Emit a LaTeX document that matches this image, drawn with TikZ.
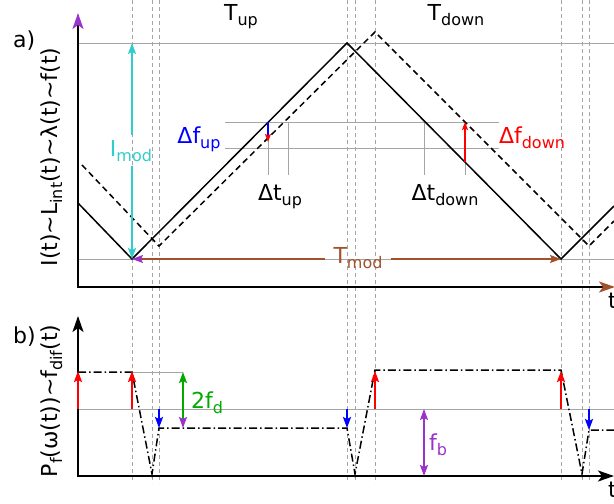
\documentclass[tikz,border=0pt]{standalone}
\usepackage{fontspec}
\setmainfont{DejaVu Sans}
\usetikzlibrary{arrows.meta}
\definecolor{cyanm}{RGB}{51,204,204}
\definecolor{brownm}{RGB}{160,82,45}
\definecolor{purplem}{RGB}{153,51,204}
\definecolor{greenm}{RGB}{0,170,0}
\definecolor{grayl}{RGB}{165,165,165}
\newcommand\lsb[1]{\raisebox{-5pt}{\fontsize{16}{16}\selectfont #1}}
\tikzset{
  lbl/.style={font=\fontsize{22}{26}\selectfont, inner sep=0pt, anchor=base},
  gline/.style={draw=grayl, line width=1pt},
  vdash/.style={draw=grayl, line width=0.9pt, dash pattern=on 4pt off 3pt},
  axis/.style={line width=2.2pt, black, line join=miter},
  wave/.style={line width=1.5pt, black},
  wavedash/.style={line width=1.5pt, black, dash pattern=on 6pt off 4pt},
  dashdot/.style={line width=1.5pt, black, dash pattern=on 8pt off 3pt on 1.5pt off 3pt},
  bigP/.tip={Stealth[length=16pt,width=11pt,inset=4pt,color=purplem]},
  bigBr/.tip={Stealth[length=16pt,width=11pt,inset=4pt,color=brownm]},
  bigK/.tip={Stealth[length=16pt,width=11pt,inset=4pt,color=black]},
  midC/.tip={Stealth[length=11pt,width=8pt,inset=2pt,color=cyanm]},
  midP/.tip={Stealth[length=11pt,width=8pt,inset=2pt,color=purplem]},
  midBr/.tip={Stealth[length=11pt,width=8pt,inset=2pt,color=brownm]},
  midR/.tip={Stealth[length=11pt,width=8pt,inset=2pt,color=red]},
  midB/.tip={Stealth[length=11pt,width=8pt,inset=2pt,color=blue]},
  midG/.tip={Stealth[length=11pt,width=8pt,inset=2pt,color=greenm]},
  smallR/.tip={Stealth[length=8pt,width=6pt,inset=1.5pt,color=red]},
}
\begin{document}
\begin{tikzpicture}[x=1pt,y=-1pt]
\useasboundingbox (0,0) rectangle (614,504);

% ---------- panel a: gray guide lines ----------
\draw[gline] (78,43) -- (614,43);
\draw[gline] (78,259) -- (614,259);
\draw[gline] (225,122) -- (499,122);
\draw[gline] (225,148) -- (499,148);
\draw[gline] (268,122) -- (268,175);
\draw[gline] (288,122) -- (288,175);
\draw[gline] (424,122) -- (424,175);
\draw[gline] (465,122) -- (465,175);

% ---------- panel b: gray guide lines ----------
\draw[gline] (78,409) -- (614,409);
\draw[gline] (132,372) -- (183,372);

% ---------- vertical dashed markers ----------
\foreach \xx in {132,152,159,347,355,375,561,582,589}
  \draw[vdash] (\xx,0) -- (\xx,483);

% ---------- axes ----------
\draw[axis, {bigP}-{bigBr}] (78,13) -- (78,287) -- (615,287);
\draw[axis, {bigK}-{bigK}] (78,316) -- (78,476) -- (614,476);

% ---------- waves ----------
\draw[wave] (78,203) -- (132,259) -- (347,43) -- (561,259) -- (614,206);
\draw[wavedash] (82,165) -- (159,246) -- (375,32) -- (589,246) -- (614,221);
\draw[dashdot] (78,372) -- (132,372) -- (152,474) -- (159,428) -- (347,428)
  -- (355,474) -- (375,370) -- (561,370) -- (582,474) -- (589,430) -- (614,430);

% ---------- labels ----------
\node[lbl, anchor=base west] (la) at (13,47) {a)};
\node[lbl, anchor=base west] (lb) at (13,343) {b)};
\node[lbl] (tup) at (241,20) {T\lsb{up}};
\node[lbl] (tdown) at (456,20) {T\lsb{down}};
\node[lbl, text=blue] (dfup) at (199,143) {Δf\lsb{up}};
\node[lbl, text=red] (dfdown) at (532,143) {Δf\lsb{down}};
\node[lbl] (dtup) at (280,200) {Δt\lsb{up}};
\node[lbl] (dtdown) at (445,200) {Δt\lsb{down}};
\node[lbl, text=cyanm, inner ysep=5pt] (imod) at (131,156) {I\lsb{mod}};
\node[lbl, text=brownm, inner xsep=8pt] (tmod) at (358,263) {T\lsb{mod}};
\node[lbl, text=greenm] (fd) at (207,408) {2f\lsb{d}};
\node[lbl, text=purplem] (fb) at (438,450) {f\lsb{b}};
\node[lbl, anchor=base west] (ta) at (608,308) {t};
\node[lbl, anchor=base west] (tb) at (608,497) {t};
\node[lbl, rotate=90] (ya) at (57,157)
  {I(t)\textasciitilde L\lsb{int}(t)\textasciitilde λ(t)\textasciitilde f(t)};
\node[lbl, rotate=90] (yb) at (57,401)
  {P\lsb{f}(ω(t))\textasciitilde f\lsb{dif}(t)};

% ---------- I_mod arrow ----------
\coordinate (ctop) at (132,43);
\coordinate (cbot) at (132,259);
\draw[cyanm, line width=1.5pt, -{midC}] (imod.north -| ctop) -- (ctop);
\draw[cyanm, line width=1.5pt, -{midC}] (imod.south -| cbot) -- (cbot);

% ---------- T_mod arrow ----------
\coordinate (tl) at (132,259);
\coordinate (tr) at (561,259);
\draw[brownm, line width=1.5pt, -{midP}] (tl -| tmod.west) -- (tl);
\draw[brownm, line width=1.5pt, -{midBr}] (tr -| tmod.east) -- (tr);

% ---------- delta f arrows ----------
\draw[blue, line width=1.5pt, -{smallR}] (268,122) -- (268,142);
\draw[red, line width=2pt, -{smallR}] (465,162) -- (465,122);

% ---------- panel b arrows ----------
\foreach \xx in {78,132,375,561}
  \draw[red, line width=2.5pt, -{midR}] (\xx,409) -- (\xx,371);
\foreach \xx/\yy in {159/428,347/428,589/430}
  \draw[blue, line width=2pt, -{midB}] (\xx,409) -- (\xx,\yy);
\draw[greenm, line width=1.3pt, {midG}-{midP}] (183,372) -- (183,428);
\draw[purplem, line width=1.3pt, {midP}-{midP}] (424,409) -- (424,476);

\end{tikzpicture}
\end{document}
